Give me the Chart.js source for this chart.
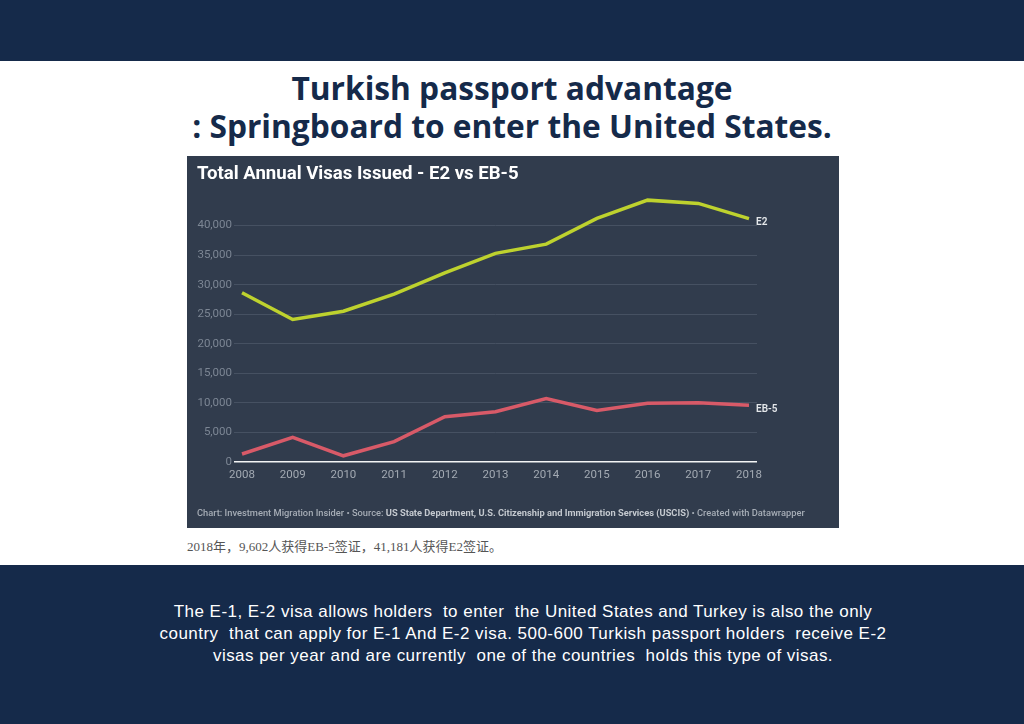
<!DOCTYPE html>
<html>
<head>
<meta charset="utf-8">
<script src="https://cdn.jsdelivr.net/npm/chart.js@4/dist/chart.umd.min.js"></script>
<style>
    html, body { margin: 0; padding: 0; background: #fff; }
    #page { position: relative; width: 1024px; height: 724px; overflow: hidden; background: #fff; }
    .band { position: absolute; left: 0; width: 1024px; background: #152a4a; }
    .line { position: absolute; left: 0; width: 1024px; text-align: center; white-space: pre; }
    .title { font: bold 31.7px "Open Sans", sans-serif; color: #152a4a; }
    .body { font: 17px "Liberation Sans", sans-serif; letter-spacing: 0.47px; color: #fff; left: 11px; }
    #panel { position: absolute; left: 187px; top: 156px; width: 652px; height: 372px; background: #313c4d; }
    #panel canvas { position: absolute; left: 0; top: 0; }
    #chartTitle { position: absolute; left: 10px; top: 6px; font: bold 18.6px Roboto, sans-serif; color: #fff; white-space: pre; }
    #chartFoot { position: absolute; left: 10px; top: 351px; font: 500 9.3px Roboto, sans-serif; color: #a6adb6; white-space: pre; }
    #chartFoot b { color: #c4c9cf; }
    #note { position: absolute; left: 187px; top: 536px; font: 13px "Liberation Serif", "Noto Sans CJK SC", serif; color: #555; white-space: pre; }
</style>
</head>
<body>
<div id="page">
    <div class="band" style="top:0;height:61px"></div>
    <div class="line title" style="top:66px">Turkish passport advantage</div>
    <div class="line title" style="top:104px">: Springboard to enter the United States.</div>
    <div id="panel">
        <canvas id="visaChart" width="652" height="372"></canvas>
        <div id="chartTitle">Total Annual Visas Issued - E2 vs EB-5</div>
        <div id="chartFoot">Chart: Investment Migration Insider • Source: <b>US State Department, U.S. Citizenship and Immigration Services (USCIS)</b> • Created with Datawrapper</div>
    </div>
    <div id="note">2018年，9,602人获得EB-5签证，41,181人获得E2签证。</div>
    <div class="band" style="top:565px;height:159px"></div>
    <div class="line body" style="top:602px">The E-1, E-2 visa allows holders  to enter  the United States and Turkey is also the only</div>
    <div class="line body" style="top:624px">country  that can apply for E-1 And E-2 visa. 500-600 Turkish passport holders  receive E-2</div>
    <div class="line body" style="top:646px">visas per year and are currently  one of the countries  holds this type of visas.</div>
</div>
<script>
const years = [2008, 2009, 2010, 2011, 2012, 2013, 2014, 2015, 2016, 2017, 2018];
const e2Values = [28640, 24100, 25500, 28400, 32000, 35300, 36850, 41200, 44300, 43750, 41181];
const eb5Values = [1350, 4180, 1050, 3450, 7650, 8500, 10750, 8700, 9930, 10030, 9602];
const yTickValues = [0, 5000, 10000, 15000, 20000, 25000, 30000, 35000, 40000];

// names at the end of each line
const endLabels = {
    id: 'endLabels',
    afterDatasetsDraw(chart) {
        const ctx = chart.ctx;
        ctx.save();
        ctx.font = '600 10px Roboto, sans-serif';
        ctx.fillStyle = '#e4e7ea';
        ctx.textBaseline = 'middle';
        chart.data.datasets.forEach((ds, i) => {
            const pt = chart.getDatasetMeta(i).data[ds.data.length - 1];
            ctx.fillText(ds.label, pt.x + 7, pt.y + 4);
        });
        ctx.restore();
    }
};

new Chart(document.getElementById('visaChart').getContext('2d'), {
    type: 'line',
    data: {
        datasets: [
            {
                label: 'E2',
                data: years.map((y, i) => ({ x: y, y: e2Values[i] })),
                borderColor: '#bed22e',
                borderWidth: 3.5,
                pointRadius: 0,
                tension: 0
            },
            {
                label: 'EB-5',
                data: years.map((y, i) => ({ x: y, y: eb5Values[i] })),
                borderColor: '#d85a68',
                borderWidth: 3.5,
                pointRadius: 0,
                tension: 0
            }
        ]
    },
    options: {
        responsive: false,
        animation: false,
        layout: { padding: { left: 0, right: 82, top: 40, bottom: 0 } },
        plugins: {
            legend: { display: false },
            tooltip: { enabled: false }
        },
        scales: {
            x: {
                type: 'linear',
                min: 2007.842,
                max: 2018.158,
                afterBuildTicks: (axis) => {
                    axis.ticks = years.map((y) => ({ value: y }));
                },
                afterFit: (axis) => {
                    axis.height = 66;
                },
                grid: { display: false },
                border: { display: false },
                ticks: {
                    color: '#a3aab3',
                    padding: -2,
                    autoSkip: false,
                    maxRotation: 0,
                    font: { family: 'Roboto', size: 11.5 },
                    callback: (v) => String(v)
                }
            },
            y: {
                min: 0,
                max: 45000,
                afterBuildTicks: (axis) => {
                    axis.ticks = yTickValues.map((v) => ({ value: v }));
                },
                afterFit: (axis) => {
                    axis.width = 47;
                },
                grid: {
                    drawTicks: false,
                    color: (c) => (c.tick.value === 0 ? '#f4f5f6' : '#465162'),
                    lineWidth: (c) => (c.tick.value === 0 ? 1.5 : 1)
                },
                border: { display: false },
                ticks: {
                    color: '#7c8694',
                    padding: 2,
                    font: { family: 'Roboto', size: 11.5 },
                    callback: (v) => v.toLocaleString('en-US')
                }
            }
        }
    },
    plugins: [endLabels]
});
</script>
</body>
</html>
